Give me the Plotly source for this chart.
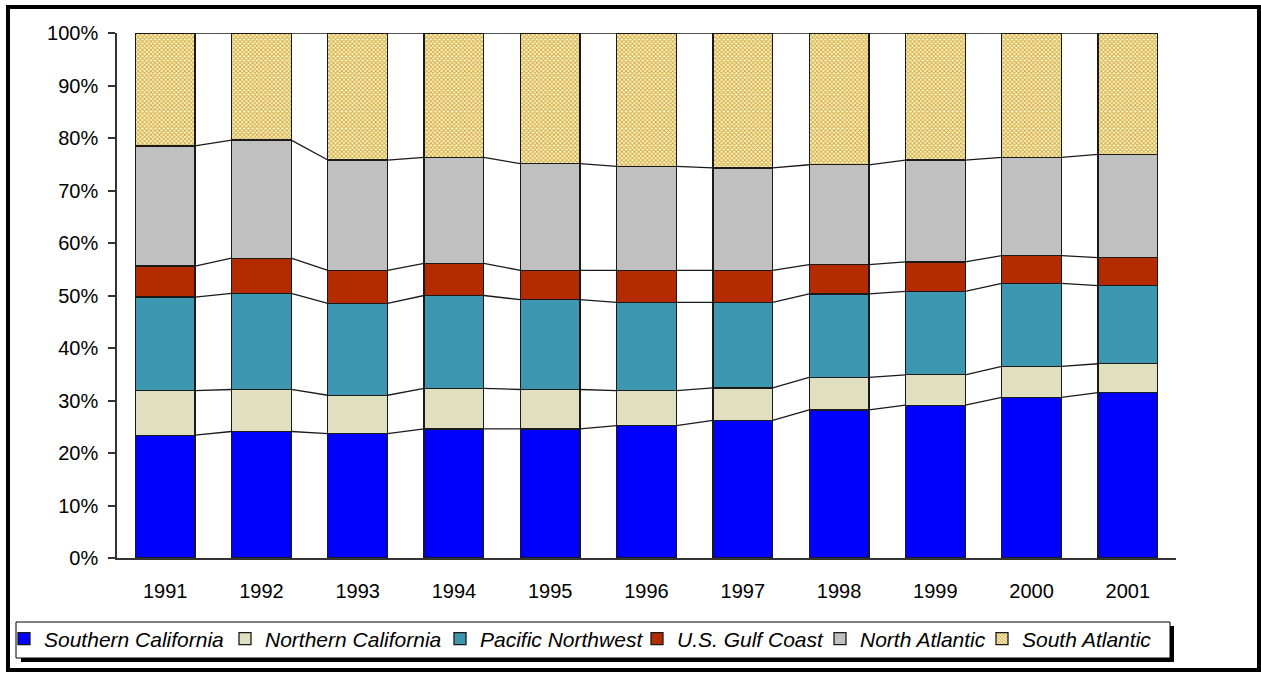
import plotly.graph_objects as go

# Share of total by region, 1991-2001 (percent of each year's total)
years = ["1991", "1992", "1993", "1994", "1995", "1996", "1997", "1998", "1999", "2000", "2001"]
southern_california = [23.4, 24.1, 23.7, 24.6, 24.6, 25.2, 26.2, 28.2, 29.1, 30.6, 31.5]
northern_california = [8.5, 8.0, 7.3, 7.7, 7.5, 6.7, 6.2, 6.2, 5.8, 5.9, 5.5]
pacific_northwest = [17.8, 18.3, 17.5, 17.7, 17.1, 16.8, 16.3, 15.9, 15.9, 15.8, 14.9]
us_gulf_coast = [5.9, 6.7, 6.3, 6.1, 5.6, 6.1, 6.1, 5.6, 5.6, 5.3, 5.3]
north_atlantic = [22.9, 22.5, 21.0, 20.2, 20.3, 19.8, 19.5, 19.0, 19.4, 18.7, 19.7]
south_atlantic = [21.5, 20.4, 24.2, 23.7, 24.9, 25.4, 25.7, 25.1, 24.2, 23.7, 23.1]

y_tick_values = [0, 10, 20, 30, 40, 50, 60, 70, 80, 90, 100]
y_tick_labels = ["0%", "10%", "20%", "30%", "40%", "50%", "60%", "70%", "80%", "90%", "100%"]

series_names = ["Southern California", "Northern California", "Pacific Northwest",
                "U.S. Gulf Coast", "North Atlantic", "South Atlantic"]
series_values = [southern_california, northern_california, pacific_northwest,
                 us_gulf_coast, north_atlantic, south_atlantic]
series_colors = ["#0000FF", "#E0E0C0", "#3E97B0", "#B52B00", "#C0C0C0", "#F6E7A6"]

W, H = 1261, 677
FONT = "Liberation Sans, Arial, sans-serif"
BAR_W = 0.62
x_idx = list(range(len(years)))


def px(x):
    return x / W


def py(y):
    return 1 - y / H


fig = go.Figure()

# legend slots (left edge of each one-item legend, in pixels)
legend_left = [4, 225, 440, 637, 820, 982]

for k, (name, vals, col) in enumerate(zip(series_names, series_values, series_colors)):
    marker = dict(color=col, line=dict(color="#1a1a1a", width=1.3))
    if name == "South Atlantic":
        marker["pattern"] = dict(shape="x", size=3, solidity=0.5,
                                 fgcolor="#D0A838", bgcolor="#FFF6D0", fillmode="replace")
    lg = "legend" if k == 0 else f"legend{k + 1}"
    fig.add_trace(go.Bar(x=x_idx, y=vals, name=name, marker=marker, width=BAR_W,
                         legend=lg, hoverinfo="skip"))

# series lines joining the top of each segment between adjacent bars
cum = [0.0] * len(years)
for vals in series_values:
    cum = [c + v for c, v in zip(cum, vals)]
    lx, ly = [], []
    for i in range(len(years) - 1):
        lx += [i + BAR_W / 2, i + 1 - BAR_W / 2, None]
        ly += [cum[i], cum[i + 1], None]
    fig.add_trace(go.Scatter(x=lx, y=ly, mode="lines", showlegend=False,
                             line=dict(color="#1a1a1a", width=1.3), hoverinfo="skip"))

shapes = [
    # outer frame
    dict(type="rect", xref="paper", yref="paper", x0=px(8), x1=px(1259), y0=py(670), y1=py(7),
         line=dict(color="black", width=4), fillcolor="rgba(0,0,0,0)", layer="below"),
    # legend box shadow and box
    dict(type="rect", xref="paper", yref="paper", x0=px(21), x1=px(1174), y0=py(662), y1=py(626),
         line=dict(width=0), fillcolor="black", layer="below"),
    dict(type="rect", xref="paper", yref="paper", x0=px(16), x1=px(1170), y0=py(658), y1=py(622),
         line=dict(color="black", width=1), fillcolor="white", layer="below"),
]

layout_legends = {}
for k, left in enumerate(legend_left):
    key = "legend" if k == 0 else f"legend{k + 1}"
    layout_legends[key] = dict(
        x=px(left), y=py(639), xanchor="left", yanchor="middle",
        orientation="h", bgcolor="rgba(0,0,0,0)", borderwidth=0,
        font=dict(family=FONT, size=21, color="black", style="italic"),
        itemwidth=30, traceorder="normal",
    )

fig.update_layout(
    width=W, height=H,
    barmode="stack",
    margin=dict(l=0, r=0, t=0, b=0, autoexpand=False),
    paper_bgcolor="white", plot_bgcolor="white",
    font=dict(family=FONT, size=20, color="black"),
    shapes=shapes,
    **layout_legends,
    xaxis=dict(domain=[px(117), px(1176)], range=[-0.5, len(years) - 0.5],
               tickvals=x_idx, ticktext=years, showline=True, linecolor="#333333",
               linewidth=1.5, ticks="", showgrid=False, zeroline=False,
               ticklabelstandoff=14, fixedrange=True, automargin=False),
    yaxis=dict(domain=[py(558), py(33)], range=[0, 100], tickvals=y_tick_values,
               ticktext=y_tick_labels, showline=True, linecolor="#333333", linewidth=1.5,
               ticks="outside", ticklen=7, tickcolor="#333333", tickwidth=1.5,
               showgrid=False, zeroline=False, ticklabelstandoff=6, fixedrange=True,
               automargin=False),
)

fig.write_html("out.html")
